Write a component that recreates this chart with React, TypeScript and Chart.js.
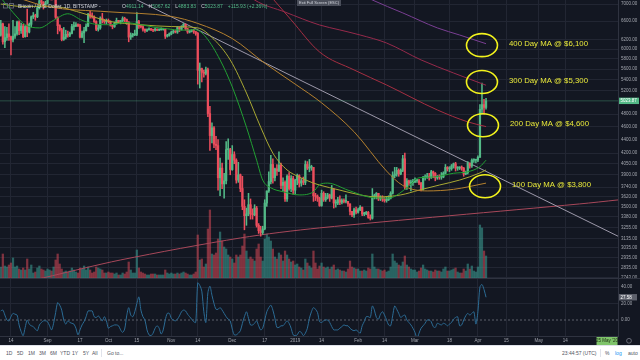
import React, { useEffect, useRef } from "react";
import { Chart, registerables } from "chart.js";

Chart.register(...registerables);

// Bitcoin / U.S. Dollar, 1D, BITSTAMP — daily candles 9 Aug 2018 … 5 Apr 2019
// day offsets counted relative to the last candle (5 Apr 2019 = 0)
const firstCandleDay = -239;
const firstOpen = 6290;

const closes = [
  // Aug 2018 (9-31)
  6540, 6150, 6240, 6320, 6260, 6190, 6270, 6320, 6580, 6390, 6490, 6260, 6480, 6360, 6530, 6700, 6730, 6700, 6910, 7080, 7040, 6980, 7020,
  // Sep
  7190, 7280, 7260, 7360, 6690, 6500, 6410, 6200, 6250, 6310, 6290, 6330, 6480, 6490, 6520, 6500, 6250, 6340, 6390, 6490, 6760, 6710, 6700, 6590, 6420, 6450, 6670, 6630, 6590, 6620,
  // Oct
  6590, 6510, 6480, 6550, 6620, 6580, 6610, 6660, 6640, 6580, 6250, 6290, 6300, 6310, 6590, 6490, 6480, 6420, 6390, 6410, 6420, 6410, 6400, 6420, 6400, 6410, 6420, 6420, 6270, 6290, 6320,
  // Nov
  6360, 6380, 6360, 6460, 6420, 6480, 6530, 6430, 6360, 6380, 6390, 6370, 6330, 5580, 5610, 5540, 5520, 5590, 4810, 4460, 4580, 4330, 4310, 3860, 3990, 3780, 3820, 4250, 4250, 3970,
  // Dec
  4180, 4100, 3830, 3900, 3720, 3500, 3390, 3410, 3520, 3410, 3400, 3480, 3280, 3220, 3200, 3240, 3540, 3690, 3810, 4040, 3860, 3980, 3950, 4030, 3760, 3800, 3590, 3880, 3720, 3850, 3700,
  // Jan 2019
  3830, 3890, 3790, 3820, 3800, 4040, 3990, 4000, 4000, 3630, 3620, 3600, 3510, 3660, 3580, 3610, 3640, 3600, 3710, 3540, 3540, 3580, 3550, 3570, 3560, 3560, 3530, 3440, 3400, 3460, 3430,
  // Feb
  3460, 3490, 3410, 3410, 3430, 3370, 3360, 3620, 3620, 3660, 3590, 3610, 3590, 3570, 3580, 3600, 3660, 3890, 3910, 3960, 3910, 3960, 4120, 3740, 3820, 3790, 3800, 3800,
  // Mar
  3820, 3820, 3790, 3710, 3860, 3870, 3880, 3860, 3940, 3920, 3860, 3880, 3870, 3870, 3920, 4000, 3980, 3980, 4020, 4050, 3990, 3990, 4000, 3990, 3910, 3930, 4060, 4020, 4100, 4100, 4100,
  // Apr
  4140, 4880, 4960, 4911.14, 5023.87,
];

const highs = [
  6620, 6560, 6480, 6460, 6540, 6270, 6620, 6480, 6600, 6610, 6560, 6530, 6500, 6880, 6560, 6720, 6800, 6760, 6940, 7140, 7130, 7060, 7070,
  7230, 7300, 7340, 7400, 7370, 6700, 6520, 6440, 6460, 6400, 6380, 6360, 6530, 6580, 6570, 6540, 6530, 6380, 6460, 6540, 6780, 6830, 6790, 6720, 6610, 6510, 6700, 6780, 6640, 6650,
  6650, 6610, 6530, 6580, 6670, 6620, 6620, 6700, 6690, 6650, 6590, 6340, 6330, 6400, 6800, 6620, 6520, 6500, 6430, 6430, 6450, 6440, 6420, 6450, 6430, 6430, 6450, 6440, 6430, 6310, 6340,
  6380, 6400, 6390, 6480, 6470, 6500, 6550, 6540, 6440, 6400, 6410, 6420, 6370, 6350, 5720, 5620, 5580, 5640, 5620, 4930, 4660, 4600, 4450, 4400, 4130, 4060, 3920, 4370, 4410, 4270,
  4310, 4220, 4120, 4070, 3910, 3880, 3580, 3480, 3660, 3590, 3470, 3520, 3500, 3300, 3270, 3270, 3580, 3690, 3940, 4170, 4120, 3990, 4040, 4220, 4060, 3860, 3820, 3900, 3930, 3890, 3880,
  3840, 3910, 3900, 3850, 3870, 4090, 4080, 4110, 4030, 4000, 3660, 3640, 3610, 3700, 3680, 3660, 3660, 3650, 3760, 3720, 3580, 3610, 3630, 3590, 3590, 3640, 3560, 3530, 3440, 3480, 3490,
  3480, 3510, 3490, 3430, 3440, 3440, 3400, 3720, 3650, 3670, 3660, 3630, 3630, 3610, 3620, 3630, 3680, 3940, 4000, 4000, 3980, 3980, 4170, 4200, 3850, 3830, 3830, 3840,
  3860, 3840, 3840, 3800, 3880, 3900, 3920, 3920, 3960, 3950, 3930, 3890, 3900, 3930, 3940, 4040, 4010, 4010, 4040, 4060, 4070, 4010, 4010, 4020, 4000, 3950, 4080, 4060, 4120, 4120, 4110,
  4160, 4960, 5340, 5050, 5067.62,
];

const lows = [
  6270, 6100, 6030, 6180, 6180, 5880, 6150, 6220, 6290, 6300, 6330, 6240, 6250, 6260, 6340, 6470, 6660, 6620, 6680, 6880, 6990, 6880, 6920,
  7000, 7150, 7210, 7230, 6660, 6320, 6380, 6170, 6180, 6210, 6250, 6260, 6320, 6400, 6480, 6480, 6230, 6230, 6130, 6380, 6480, 6670, 6670, 6570, 6390, 6380, 6420, 6560, 6550, 6540,
  6560, 6490, 6430, 6460, 6530, 6560, 6540, 6590, 6590, 6530, 6150, 6200, 6250, 6280, 6280, 6440, 6450, 6380, 6350, 6370, 6400, 6390, 6370, 6380, 6390, 6390, 6400, 6400, 6220, 6250, 6270,
  6300, 6330, 6340, 6330, 6370, 6400, 6460, 6400, 6330, 6340, 6360, 6330, 6290, 5320, 5250, 5360, 5450, 5490, 4760, 4240, 4350, 4280, 4250, 3700, 3630, 3720, 3600, 3780, 4110, 3900,
  3960, 4050, 3790, 3800, 3680, 3460, 3230, 3280, 3390, 3350, 3350, 3390, 3260, 3190, 3160, 3180, 3230, 3500, 3670, 3780, 3790, 3820, 3890, 3940, 3720, 3690, 3560, 3560, 3700, 3680, 3650,
  3650, 3770, 3740, 3750, 3770, 3770, 3970, 3940, 3960, 3560, 3570, 3560, 3500, 3500, 3560, 3560, 3590, 3560, 3590, 3480, 3490, 3520, 3520, 3530, 3540, 3540, 3500, 3400, 3380, 3370, 3410,
  3420, 3450, 3390, 3390, 3400, 3360, 3340, 3350, 3590, 3590, 3570, 3570, 3560, 3550, 3550, 3570, 3590, 3650, 3860, 3880, 3880, 3900, 3940, 3710, 3710, 3760, 3690, 3760,
  3800, 3800, 3770, 3690, 3700, 3830, 3850, 3830, 3850, 3860, 3820, 3840, 3840, 3840, 3860, 3910, 3950, 3940, 3960, 3990, 3950, 3960, 3970, 3960, 3880, 3900, 3910, 3990, 4000, 4070, 4060,
  4080, 4140, 4800, 4800, 4883.83,
];

// volume, thousand BTC
const volumes = [
  12, 25, 13, 12, 14, 16, 21, 12, 13, 10, 9, 11, 9, 20, 10, 14, 6, 7, 11, 13, 10, 9, 8,
  10, 9, 8, 12, 19, 25, 15, 10, 7, 8, 7, 8, 11, 9, 7, 6, 11, 10, 13, 9, 12, 9, 6, 7, 12, 11, 10, 9, 6, 6,
  7, 6, 6, 5, 6, 4, 4, 6, 5, 7, 17, 9, 6, 6, 29, 11, 7, 6, 5, 4, 4, 5, 5, 5, 4, 4, 4, 4, 9, 6, 5,
  6, 5, 5, 6, 5, 6, 7, 6, 5, 4, 4, 5, 7, 44, 19, 20, 12, 15, 50, 69, 25, 24, 26, 40, 47, 38, 32, 30, 24, 22,
  20, 16, 24, 22, 24, 33, 45, 28, 20, 22, 20, 18, 30, 35, 22, 18, 40, 45, 42, 38, 30, 22, 20, 26, 24, 18, 28, 24, 20, 17, 18,
  14, 15, 12, 11, 9, 20, 16, 13, 11, 28, 16, 10, 13, 16, 12, 11, 12, 10, 12, 14, 9, 10, 9, 8, 8, 7, 10, 18, 12, 11, 10,
  10, 8, 8, 9, 8, 11, 10, 25, 12, 10, 10, 9, 8, 9, 7, 8, 12, 25, 18, 16, 14, 13, 17, 23, 14, 12, 10, 9,
  9, 7, 8, 11, 14, 10, 9, 8, 8, 7, 9, 8, 8, 7, 10, 12, 8, 8, 9, 10, 11, 7, 6, 6, 10, 8, 15, 10, 13, 8, 7,
  12, 54, 51, 28, 23,
];

// lower-pane oscillator, one value per candle
const oscillator = [
  11, 12, 6, 0, -1, 4, 8, 7, 6, -6,
  -14, -19, -9, 0, -5, -7, -8, -11, -13, -6,
  -3, -1, -1, -2, -7, -12, -4, 9, 21, 18,
  12, 0, -5, -1, -3, -4, -5, -10, -18, -12,
  -6, -2, 4, 11, 11, 11, 4, 3, 5, 2,
  -1, 4, -1, -10, -8, -7, -6, -6, -7, -12,
  -15, -11, 5, 15, 6, 4, 10, 20, 28, 12,
  4, 0, -12, -18, -19, -16, -10, -7, -10, -17,
  -12, 0, 8, 8, 2, 0, -1, 1, 5, 10,
  12, 11, 7, 4, 1, -2, -3, 45, 42, 35,
  10, -3, 33, 41, 30, 20, 13, 13, 15, 12,
  8, 4, 1, -1, -11, -18, -18, -16, -13, -4,
  4, 10, 2, -6, -6, -4, -1, -7, -12, -10,
  0, 10, 15, 18, 12, 2, -9, -9, -7, -7,
  -4, -1, -4, -10, -18, -19, -18, -14, -15, -19,
  -16, -10, 2, 10, 15, 13, 9, -2, -3, -1,
  0, 0, -3, -8, -12, -12, -12, -10, -8, -6,
  -7, -7, -10, -12, -13, -12, -14, -16, -7, -2,
  4, 4, 3, 17, 12, 3, 1, 7, 10, 6,
  0, -6, -7, 5, 17, 13, 8, 3, 5, 6,
  0, -3, -6, -10, -15, -22, -16, -10, -7, -4,
  0, 0, -2, -8, -9, -4, -5, -6, -4, -5,
  -7, -5, -3, 1, 3, 4, -7, -6, 0, 5,
  8, 6, 8, 10, -5, 10, 40, 43, 37, 27.58,
];

// moving averages and trend lines as [day, price]
const ma20 = [[-239, 7150], [-233, 6800], [-227, 6520], [-220, 6450], [-213, 6620], [-206, 6770], [-199, 6620], [-192, 6530], [-185, 6520], [-178, 6570], [-171, 6530], [-164, 6470], [-157, 6430], [-150, 6400], [-143, 6410], [-138, 6250], [-131, 5780], [-125, 5270], [-118, 4590], [-113, 4100], [-110, 3830], [-106, 3730], [-100, 3680], [-92, 3640], [-85, 3680], [-82, 3770], [-78, 3790], [-68, 3700], [-57, 3610], [-49, 3600], [-46, 3610], [-39, 3730], [-33, 3860], [-26, 3870], [-16, 3920], [-9, 3940], [-3, 4010], [0, 4100]];
const ma50 = [[-239, 7000], [-228, 6940], [-214, 6950], [-200, 6800], [-186, 6600], [-170, 6520], [-155, 6480], [-142, 6450], [-134, 6200], [-126, 5780], [-118, 5160], [-111, 4590], [-105, 4200], [-98, 3965], [-92, 3870], [-85, 3790], [-82, 3765], [-72, 3700], [-62, 3640], [-54, 3615], [-42, 3640], [-33, 3700], [-23, 3765], [-13, 3830], [-3, 3925], [0, 3965]];
const ma100 = [[-239, 7300], [-216, 6940], [-186, 6816], [-155, 6708], [-142, 6550], [-125, 6219], [-109, 5716], [-94, 5320], [-81, 4990], [-65, 4519], [-49, 3950], [-41, 3760], [-29, 3690], [-16, 3710], [0, 3790]];
const ma200 = [[-108, 7300], [-96, 6630], [-82, 5940], [-65, 5585], [-49, 5305], [-24, 4870], [-9, 4675], [0, 4600]];
const ma300 = [[-120, 7350], [-114, 7097], [-99, 6810], [-82, 6515], [-72, 6405], [-62, 6295], [-49, 6125], [-32, 5780], [-16, 5527], [0, 5300]];
const ma400 = [[-62, 7250], [-56, 7097], [-41, 6790], [-24, 6450], [-13, 6295], [0, 6110]];
const trendGray = [[-172, 7100], [65, 3160]];
const trendPink = [[-239, 2650], [-218, 2740], [-180, 2913], [-121, 3141], [-82, 3251], [46, 3529], [65, 3578]];

const noteLabels = ["400 Day MA @ $6,100", "300 Day MA @ $5,300", "200 Day MA @ $4,600", "100 Day MA @ $3,800"];
const noteDays = [-2, -2, -1.5, -0.5];
const notePrices = [6080, 5360, 4620, 3750];

const priceTicks = [7000, 6600, 6200, 6000, 5800, 5600, 5400, 5200, 4800, 4600, 4400, 4200, 4050, 3900, 3740, 3620, 3500, 3380, 3255, 3135, 3035, 2935, 2835, 2743];
const oscTicks = [40, 20, 0];
const timeTickDays = [-234, -216, -200, -186, -172, -155, -142, -125, -109, -94, -81, -63, -50, -35, -18, -4, 10, 26, 39];
const timeTickLabels = ["14", "Sep", "17", "Oct", "15", "Nov", "14", "Dec", "17", "2019", "14", "Feb", "14", "Mar", "18", "Apr", "15", "May", "14"];
const cursorDay = 59.6;
const cursorLabel = "25 May '20";
const headerTitle = "Bitcoin / U.S. Dollar, 1D, BITSTAMP -";
const headerChange = "+115.93 (+2.36%)";

const X_MIN = -239.4;
const X_MAX = 65.0;
const P_MIN = 2729;
const P_MAX = 7097;
const V_MAX = 279;
const O_MIN = -19.4;
const O_MAX = 49.7;

const FONT = "'Liberation Sans', Arial, sans-serif";
const BG = "#131722";
const GRID = "#222633";
const AXIS_LINE = "#2f3340";
const AXIS_TEXT = "#a3a6af";
const UP = "#53b987";
const DOWN = "#eb4d5c";
const YELLOW = "#f2f21c";

const pts = (arr: number[][]) => arr.map(([x, y]) => ({ x, y }));

export default function App() {
  const priceRef = useRef<HTMLCanvasElement>(null);
  const oscRef = useRef<HTMLCanvasElement>(null);

  useEffect(() => {
    const days = closes.map((_, i) => firstCandleDay + i);
    const opens = closes.map((_, i) => (i === 0 ? firstOpen : closes[i - 1]));
    const isUp = closes.map((c, i) => c >= opens[i]);
    const last = closes.length - 1;
    const lastClose = closes[last];

    const xBase: any = {
      type: "linear",
      min: X_MIN,
      max: X_MAX,
      offset: false,
      afterBuildTicks: (s: any) => {
        s.ticks = timeTickDays.map((v) => ({ value: v }));
      },
      grid: { color: GRID, drawTicks: false, offset: false },
    };

    const lineDs = (data: number[][], color: string, order: number, extra: any = {}) => ({
      type: "line",
      data: pts(data),
      borderColor: color,
      borderWidth: 1,
      pointRadius: 0,
      fill: false,
      cubicInterpolationMode: "monotone",
      clip: 0,
      order,
      yAxisID: "y",
      ...extra,
    });

    const overlay = {
      id: "overlay",
      afterDatasetsDraw(chart: any) {
        const { ctx } = chart;
        const x = chart.scales.x;
        const y = chart.scales.y;
        ctx.save();
        ctx.lineWidth = 1.6;
        ctx.strokeStyle = YELLOW;
        ctx.fillStyle = "#e9e93a";
        ctx.font = `7.8px ${FONT}`;
        ctx.textBaseline = "middle";
        ctx.textAlign = "left";
        noteLabels.forEach((label, k) => {
          const cx = x.getPixelForValue(noteDays[k]);
          const cy = y.getPixelForValue(notePrices[k]);
          ctx.beginPath();
          ctx.ellipse(cx, cy, 15.5, 11.5, 0, 0, Math.PI * 2);
          ctx.stroke();
          ctx.fillText(label, cx + 27, cy - 1.5);
        });
        ctx.restore();
      },
      afterDraw(chart: any) {
        const { ctx, chartArea } = chart;
        const y = chart.scales.y;
        ctx.save();
        // last price tag
        const py = y.getPixelForValue(lastClose);
        ctx.fillStyle = UP;
        ctx.fillRect(chartArea.right + 1, py - 3.2, 20, 6.4);
        ctx.fillStyle = "#ffffff";
        ctx.font = `4.5px ${FONT}`;
        ctx.textBaseline = "middle";
        ctx.fillText(lastClose.toFixed(2), chartArea.right + 2.5, py + 0.2);
        // header
        ctx.font = `5px ${FONT}`;
        ctx.fillStyle = "#6f7380";
        ctx.strokeStyle = "#6f7380";
        ctx.lineWidth = 0.8;
        ctx.strokeRect(3.5, 3.5, 4, 4.5);
        ctx.strokeRect(9.5, 3.5, 4, 4.5);
        let hx = 18;
        ctx.fillStyle = "#d1d4dc";
        ctx.fillText(headerTitle, hx, 6.2);
        hx = 122;
        const segs: [string, string][] = [
          ["O", opens[last].toFixed(2)],
          ["H", highs[last].toFixed(2)],
          ["L", lows[last].toFixed(2)],
          ["C", closes[last].toFixed(2)],
        ];
        segs.forEach(([k, v]) => {
          ctx.fillStyle = "#d1d4dc";
          ctx.fillText(k, hx, 6.2);
          hx += ctx.measureText(k).width;
          ctx.fillStyle = UP;
          ctx.fillText(v, hx, 6.2);
          hx += ctx.measureText(v).width + 5;
        });
        ctx.fillText(headerChange, hx, 6.2);
        // full-screen tooltip
        ctx.fillStyle = "#4a4e5a";
        ctx.fillRect(297, -2, 44, 8);
        ctx.fillStyle = "#d1d4dc";
        ctx.font = `4px ${FONT}`;
        ctx.textAlign = "center";
        ctx.fillText("Exit Full Screen (ESC)", 319, 3);
        ctx.restore();
      },
    };

    const priceChart = new Chart(priceRef.current as HTMLCanvasElement, {
      type: "bar",
      data: {
        datasets: [
          {
            type: "bar",
            data: volumes.map((v, i) => ({ x: days[i], y: v })),
            backgroundColor: isUp.map((u) => (u ? "rgba(60,160,150,0.55)" : "rgba(235,77,92,0.5)")),
            barThickness: 1.6,
            grouped: false,
            yAxisID: "yv",
            order: 20,
            clip: 0,
          } as any,
          lineDs(trendPink, "#a8485a", 12, { cubicInterpolationMode: "default", tension: 0.3 }),
          lineDs(trendGray, "#9d99aa", 11, { cubicInterpolationMode: "default" }),
          lineDs([[X_MIN, lastClose], [X_MAX, lastClose]], "rgba(83,185,135,0.35)", 10, { cubicInterpolationMode: "default" }),
          {
            type: "bar",
            data: closes.map((_, i) => ({ x: days[i], y: [lows[i], highs[i]] })),
            backgroundColor: isUp.map((u) => (u ? UP : DOWN)),
            barThickness: 0.9,
            grouped: false,
            yAxisID: "y",
            order: 4,
            clip: 0,
          } as any,
          {
            type: "bar",
            data: closes.map((c, i) => ({ x: days[i], y: [opens[i], c] })),
            backgroundColor: isUp.map((u) => (u ? UP : DOWN)),
            barThickness: 1.6,
            minBarLength: 1,
            grouped: false,
            yAxisID: "y",
            order: 3,
            clip: 0,
          } as any,
          lineDs(ma400, "#7a3f93", 2),
          lineDs(ma300, "#962a4b", 2),
          lineDs(ma200, "#a62f42", 2),
          lineDs(ma100, "#b5812e", 1),
          lineDs(ma50, "#a9a933", 1),
          lineDs(ma20, "#22a033", 0),
        ] as any,
      },
      options: {
        responsive: false,
        maintainAspectRatio: false,
        animation: false,
        events: [],
        layout: { padding: 0 },
        plugins: { legend: { display: false }, tooltip: { enabled: false } },
        scales: {
          x: {
            ...xBase,
            ticks: { display: false },
            border: { display: false },
            afterFit: (s: any) => {
              s.height = 0;
              s.paddingLeft = 0;
              s.paddingRight = 0;
            },
          },
          y: {
            type: "logarithmic",
            position: "right",
            min: P_MIN,
            max: P_MAX,
            afterBuildTicks: (s: any) => {
              s.ticks = priceTicks.map((v) => ({ value: v }));
            },
            afterFit: (s: any) => {
              s.width = 22;
              s.paddingTop = 0;
              s.paddingBottom = 0;
            },
            ticks: {
              autoSkip: false,
              padding: 3,
              color: AXIS_TEXT,
              font: { size: 4.5, family: FONT },
              callback: (v: any) => Number(v).toFixed(2),
            },
            grid: { color: GRID, drawTicks: false },
            border: { display: true, color: AXIS_LINE },
          },
          yv: { type: "linear", display: false, min: 0, max: V_MAX },
        } as any,
      },
      plugins: [overlay],
    });

    const oscOverlay = {
      id: "oscOverlay",
      afterDraw(chart: any) {
        const { ctx, chartArea } = chart;
        const y = chart.scales.y;
        const x = chart.scales.x;
        ctx.save();
        const lastOsc = oscillator[oscillator.length - 1];
        const py = y.getPixelForValue(lastOsc);
        ctx.fillStyle = "#5d606b";
        ctx.fillRect(chartArea.right + 1, py - 3.2, 18, 6.4);
        ctx.fillStyle = "#ffffff";
        ctx.font = `4.5px ${FONT}`;
        ctx.textBaseline = "middle";
        ctx.fillText(lastOsc.toFixed(2), chartArea.right + 2.5, py + 0.2);
        // crosshair date tag
        const cx = x.getPixelForValue(cursorDay);
        ctx.fillStyle = "#7fc46a";
        ctx.fillRect(cx - 10.5, chartArea.bottom + 1, 21, 8);
        ctx.fillStyle = "#1b2a12";
        ctx.textAlign = "center";
        ctx.fillText(cursorLabel, cx, chartArea.bottom + 5.2);
        // settings circle
        ctx.strokeStyle = "#787b86";
        ctx.lineWidth = 0.8;
        ctx.beginPath();
        ctx.arc(chartArea.right + 11, chartArea.bottom + 4.8, 2.4, 0, Math.PI * 2);
        ctx.stroke();
        ctx.restore();
      },
    };

    const oscChart = new Chart(oscRef.current as HTMLCanvasElement, {
      type: "line",
      data: {
        datasets: [
          {
            data: oscillator.map((v, i) => ({ x: days[i], y: v })),
            borderColor: "#2c6c95",
            borderWidth: 1,
            pointRadius: 0,
            tension: 0.3,
            fill: false,
            clip: 0,
            order: 0,
          },
          {
            data: [{ x: X_MIN, y: 0 }, { x: X_MAX, y: 0 }],
            borderColor: "#5d606b",
            borderWidth: 1,
            borderDash: [2, 2],
            pointRadius: 0,
            fill: false,
            clip: 0,
            order: 1,
          },
        ] as any,
      },
      options: {
        responsive: false,
        maintainAspectRatio: false,
        animation: false,
        events: [],
        layout: { padding: 0 },
        plugins: { legend: { display: false }, tooltip: { enabled: false } },
        scales: {
          x: {
            ...xBase,
            position: "bottom",
            ticks: {
              autoSkip: false,
              maxRotation: 0,
              padding: 2,
              color: AXIS_TEXT,
              font: { size: 4.5, family: FONT },
              callback: (_v: any, idx: number) => timeTickLabels[idx],
            },
            border: { display: true, color: AXIS_LINE },
            afterFit: (s: any) => {
              s.height = 9;
              s.paddingLeft = 0;
              s.paddingRight = 0;
            },
          },
          y: {
            type: "linear",
            position: "right",
            min: O_MIN,
            max: O_MAX,
            afterBuildTicks: (s: any) => {
              s.ticks = oscTicks.map((v) => ({ value: v }));
            },
            afterFit: (s: any) => {
              s.width = 22;
              s.paddingTop = 0;
              s.paddingBottom = 0;
            },
            ticks: {
              autoSkip: false,
              padding: 3,
              color: AXIS_TEXT,
              font: { size: 4.5, family: FONT },
              callback: (v: any) => Number(v).toFixed(2),
            },
            grid: { color: (c: any) => (c.tick && c.tick.value === 0 ? "rgba(0,0,0,0)" : GRID), drawTicks: false },
            border: { display: true, color: AXIS_LINE },
          },
        } as any,
      },
      plugins: [oscOverlay],
    });

    return () => {
      priceChart.destroy();
      oscChart.destroy();
    };
  }, []);

  const leftItems = ["1D", "5D", "1M", "3M", "6M", "YTD", "1Y", "5Y", "All"];
  const leftPos = [6, 17, 28, 39, 50, 60, 72, 83, 92];
  const txt: any = { position: "absolute", top: 4, fontSize: 5, fontFamily: FONT, color: "#50535e", whiteSpace: "nowrap" };

  return (
    <div style={{ position: "fixed", left: 0, top: 0, width: 640, height: 360, background: BG, overflow: "hidden" }}>
      <canvas ref={priceRef} width={640} height={279} style={{ position: "absolute", left: 0, top: 0, width: 640, height: 279 }} />
      <canvas ref={oscRef} width={640} height={66} style={{ position: "absolute", left: 0, top: 279, width: 640, height: 66 }} />
      <div style={{ position: "absolute", left: 0, top: 278, width: 640, height: 1, background: AXIS_LINE }} />
      <div style={{ position: "absolute", left: 0, top: 345, width: 640, height: 15, background: "#ffffff", borderTop: "1px solid #e0e3eb", boxSizing: "border-box" }}>
        {leftItems.map((t, i) => (
          <span key={t} style={{ ...txt, left: leftPos[i] }}>{t}</span>
        ))}
        <span style={{ position: "absolute", left: 101, top: 3, width: 1, height: 8, background: "#e0e3eb" }} />
        <span style={{ ...txt, left: 107 }}>Go to...</span>
        <span style={{ ...txt, left: 562 }}>23:44:57 (UTC)</span>
        <span style={{ position: "absolute", left: 600, top: 3, width: 1, height: 8, background: "#e0e3eb" }} />
        <span style={{ ...txt, left: 605 }}>%</span>
        <span style={{ ...txt, left: 615, color: "#2196f3" }}>log</span>
        <span style={{ ...txt, left: 628 }}>auto</span>
      </div>
    </div>
  );
}
